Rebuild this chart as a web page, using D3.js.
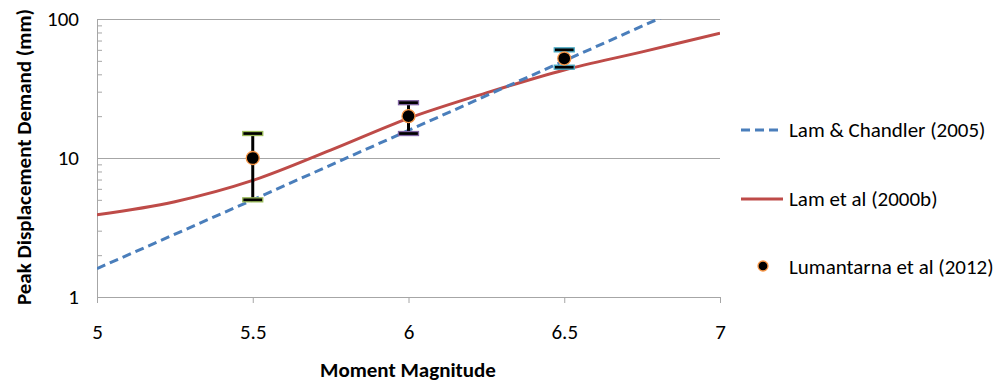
<!DOCTYPE html>
<html><head><meta charset="utf-8">
<script src="https://cdn.jsdelivr.net/npm/d3@7"></script>
<style>
body{margin:0;background:#fff;}
text{font-family:Carlito,Calibri,"Liberation Sans",Arial,sans-serif;}
</style></head>
<body><svg id="c" width="1006" height="383"></svg>
<script>
// Data
const xTicks = [5, 5.5, 6, 6.5, 7];
const yTicks = [1, 10, 100];
const chandlerM = [5, 5.5, 6, 6.5, 7];
const chandlerD = [1.6, 5.0, 15.8, 50, 158];
const lamM = [5, 5.25, 5.5, 5.75, 6, 6.25, 6.5, 6.75, 7];
const lamD = [3.9, 4.85, 6.9, 11.4, 19.3, 29.4, 43.0, 58.0, 79.0];
const lumM = [5.5, 6, 6.5];
const lumD = [10, 20, 52];
const lumLo = [5, 15, 45];
const lumHi = [15, 25, 60];
const capColors = ["#9bbb59", "#8064a2", "#4bacc6"];
const seriesNames = ["Lam & Chandler (2005)", "Lam et al (2000b)", "Lumantarna et al (2012)"];

const svg = d3.select("#c");
const L = 97, R = 720, T = 19, B = 297;
const x = d3.scaleLinear().domain([5, 7]).range([L, R]);
const y = d3.scaleLog().domain([1, 100]).range([B, T]);

svg.append("defs").append("clipPath").attr("id", "clip")
  .append("rect").attr("x", L).attr("y", T).attr("width", R - L).attr("height", B - T);

// gridlines
svg.append("g").selectAll("line").data([10, 100]).join("line")
  .attr("x1", L).attr("x2", R).attr("y1", d => y(d)).attr("y2", d => y(d))
  .attr("stroke", "#a6a6a6").attr("stroke-width", 1).attr("shape-rendering", "crispEdges");

// y axis
const minor = [];
for (let dec = 1; dec < 100; dec *= 10) for (let k = 1; k <= 9; k++) minor.push(dec * k);
minor.push(100);
const yAx = svg.append("g").attr("transform", `translate(${L},0)`)
  .call(d3.axisRight(y).tickValues(minor).tickFormat("").tickSize(5).tickSizeOuter(0));
yAx.select(".domain").attr("stroke", "#a6a6a6");
yAx.selectAll(".tick line").attr("stroke", "#a6a6a6");
svg.append("g").selectAll("text").data(yTicks).join("text")
  .attr("x", 79).attr("y", d => y(d) + 7).attr("text-anchor", "end")
  .attr("font-size", 21).attr("fill", "#000").text(d => d);

// x axis
const xAx = svg.append("g").attr("transform", `translate(0,${B})`)
  .call(d3.axisBottom(x).tickValues(xTicks).tickSize(6).tickSizeOuter(0).tickFormat(d3.format("")));
xAx.select(".domain").attr("stroke", "#a6a6a6");
xAx.selectAll(".tick line").attr("stroke", "#a6a6a6");
xAx.selectAll(".tick text").attr("font-size", 21).attr("fill", "#000").attr("dy", 0).attr("y", 42);

// titles
svg.append("text").attr("x", 408).attr("y", 377).attr("text-anchor", "middle")
  .attr("font-size", 21).attr("font-weight", "bold").text("Moment Magnitude");
svg.append("text").attr("transform", "translate(31,157) rotate(-90)").attr("text-anchor", "middle")
  .attr("font-size", 21).attr("font-weight", "bold").text("Peak Displacement Demand (mm)");

const plot = svg.append("g").attr("clip-path", "url(#clip)");

// Lam et al (2000b)
const lamPts = lamM.map((m, i) => [m, lamD[i]]);
plot.append("path").datum(lamPts)
  .attr("d", d3.line().x(d => x(d[0])).y(d => y(d[1])).curve(d3.curveCatmullRom))
  .attr("fill", "none").attr("stroke", "#be4b48").attr("stroke-width", 3);

// Lam & Chandler (2005)
const chPts = chandlerM.map((m, i) => [m, chandlerD[i]]);
plot.append("path").datum(chPts)
  .attr("d", d3.line().x(d => x(d[0])).y(d => y(d[1])))
  .attr("fill", "none").attr("stroke", "#4a7ebb").attr("stroke-width", 3)
  .attr("stroke-dasharray", "9,5");

// error bars + points
const eg = svg.append("g");
lumM.forEach((m, i) => {
  eg.append("line").attr("x1", x(m)).attr("x2", x(m)).attr("y1", y(lumLo[i])).attr("y2", y(lumHi[i]))
    .attr("stroke", "#000").attr("stroke-width", 3);
  [lumLo[i], lumHi[i]].forEach(v => {
    eg.append("rect").attr("x", x(m) - 10).attr("y", y(v) - 2).attr("width", 20).attr("height", 4)
      .attr("fill", "#000").attr("stroke", capColors[i]).attr("stroke-width", 1.3);
  });
  eg.append("circle").attr("cx", x(m)).attr("cy", y(lumD[i])).attr("r", 6.5)
    .attr("fill", "#000").attr("stroke", "#f79646").attr("stroke-width", 1.3);
});

// legend
const lg = svg.append("g");
lg.append("line").attr("x1", 741).attr("x2", 780).attr("y1", 130).attr("y2", 130)
  .attr("stroke", "#4a7ebb").attr("stroke-width", 3).attr("stroke-dasharray", "9,5");
lg.append("line").attr("x1", 741).attr("x2", 783).attr("y1", 199).attr("y2", 199)
  .attr("stroke", "#be4b48").attr("stroke-width", 3);
lg.append("circle").attr("cx", 763).attr("cy", 266).attr("r", 5)
  .attr("fill", "#000").attr("stroke", "#f79646").attr("stroke-width", 1.3);
lg.selectAll("text.l").data(seriesNames).join("text").attr("class", "l")
  .attr("x", 789).attr("y", (d, i) => [137, 206, 274][i])
  .attr("font-size", 21).attr("fill", "#000").text(d => d);
</script></body></html>
